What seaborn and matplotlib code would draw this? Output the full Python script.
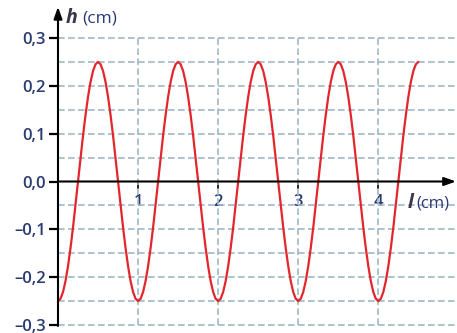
import pandas as pd
import matplotlib
matplotlib.use("Agg")
import matplotlib.pyplot as plt
import seaborn as sns

# wave profile (l in cm, h in cm)
l_cm = [
    0.0, 0.03125, 0.0625, 0.09375, 0.125, 0.15625, 0.1875, 0.21875, 0.25, 0.28125, 0.3125, 0.34375,
    0.375, 0.40625, 0.4375, 0.46875, 0.5, 0.53125, 0.5625, 0.59375, 0.625, 0.65625, 0.6875, 0.71875,
    0.75, 0.78125, 0.8125, 0.84375, 0.875, 0.90625, 0.9375, 0.96875,
    1.0, 1.03125, 1.0625, 1.09375, 1.125, 1.15625, 1.1875, 1.21875, 1.25, 1.28125, 1.3125, 1.34375,
    1.375, 1.40625, 1.4375, 1.46875, 1.5, 1.53125, 1.5625, 1.59375, 1.625, 1.65625, 1.6875, 1.71875,
    1.75, 1.78125, 1.8125, 1.84375, 1.875, 1.90625, 1.9375, 1.96875,
    2.0, 2.03125, 2.0625, 2.09375, 2.125, 2.15625, 2.1875, 2.21875, 2.25, 2.28125, 2.3125, 2.34375,
    2.375, 2.40625, 2.4375, 2.46875, 2.5, 2.53125, 2.5625, 2.59375, 2.625, 2.65625, 2.6875, 2.71875,
    2.75, 2.78125, 2.8125, 2.84375, 2.875, 2.90625, 2.9375, 2.96875,
    3.0, 3.03125, 3.0625, 3.09375, 3.125, 3.15625, 3.1875, 3.21875, 3.25, 3.28125, 3.3125, 3.34375,
    3.375, 3.40625, 3.4375, 3.46875, 3.5, 3.53125, 3.5625, 3.59375, 3.625, 3.65625, 3.6875, 3.71875,
    3.75, 3.78125, 3.8125, 3.84375, 3.875, 3.90625, 3.9375, 3.96875,
    4.0, 4.03125, 4.0625, 4.09375, 4.125, 4.15625, 4.1875, 4.21875, 4.25, 4.28125, 4.3125, 4.34375,
    4.375, 4.40625, 4.4375, 4.46875, 4.5,
]
h_cm = [
    -0.25, -0.245, -0.231, -0.208, -0.177, -0.139, -0.096, -0.049, 0.0, 0.049, 0.096, 0.139,
    0.177, 0.208, 0.231, 0.245, 0.25, 0.245, 0.231, 0.208, 0.177, 0.139, 0.096, 0.049,
    0.0, -0.049, -0.096, -0.139, -0.177, -0.208, -0.231, -0.245,
    -0.25, -0.245, -0.231, -0.208, -0.177, -0.139, -0.096, -0.049, 0.0, 0.049, 0.096, 0.139,
    0.177, 0.208, 0.231, 0.245, 0.25, 0.245, 0.231, 0.208, 0.177, 0.139, 0.096, 0.049,
    0.0, -0.049, -0.096, -0.139, -0.177, -0.208, -0.231, -0.245,
    -0.25, -0.245, -0.231, -0.208, -0.177, -0.139, -0.096, -0.049, 0.0, 0.049, 0.096, 0.139,
    0.177, 0.208, 0.231, 0.245, 0.25, 0.245, 0.231, 0.208, 0.177, 0.139, 0.096, 0.049,
    0.0, -0.049, -0.096, -0.139, -0.177, -0.208, -0.231, -0.245,
    -0.25, -0.245, -0.231, -0.208, -0.177, -0.139, -0.096, -0.049, 0.0, 0.049, 0.096, 0.139,
    0.177, 0.208, 0.231, 0.245, 0.25, 0.245, 0.231, 0.208, 0.177, 0.139, 0.096, 0.049,
    0.0, -0.049, -0.096, -0.139, -0.177, -0.208, -0.231, -0.245,
    -0.25, -0.245, -0.231, -0.208, -0.177, -0.139, -0.096, -0.049, 0.0, 0.049, 0.096, 0.139,
    0.177, 0.208, 0.231, 0.245, 0.25,
]

y_ticks = [-0.3, -0.2, -0.1, 0.0, 0.1, 0.2, 0.3]
y_labels = ["\u20130,3", "\u20130,2", "\u20130,1", "0,0", "0,1", "0,2", "0,3"]
x_ticks = [1, 2, 3, 4]
x_labels = ["1", "2", "3", "4"]
y_grid = [-0.3, -0.25, -0.2, -0.15, -0.1, -0.05, 0.05, 0.1, 0.15, 0.2, 0.25, 0.3]
x_grid = [1, 2, 3, 4, 5]

sns.set_style("white")
plt.rcParams["font.family"] = ["Open Sans", "DejaVu Sans"]

text_col = "#2b3a74"
grid_col = "#9fb8c8"

df = pd.DataFrame({"l": l_cm, "h": h_cm})

fig = plt.figure(figsize=(4.57, 3.33), dpi=100)
ax = fig.add_axes([58 / 457, 7 / 333, 402 / 457, 289 / 333])

# dashed grid
ax.hlines(y_grid, 0, 5, colors=grid_col, linestyles=(0, (4, 2)), linewidth=1.2, zorder=1)
ax.vlines(x_grid, -0.3, 0.3, colors=grid_col, linestyles=(0, (4, 2)), linewidth=1.2, zorder=1)

sns.lineplot(data=df, x="l", y="h", sort=False, color="#e2262c", linewidth=1.6, ax=ax, zorder=3)

ax.set_xlim(0, 5.02)
ax.set_ylim(-0.302, 0.302)
ax.grid(False)

for s in ax.spines.values():
    s.set_visible(False)
ax.spines["bottom"].set_position(("data", 0))

ax.set_yticks(y_ticks)
ax.set_yticklabels(y_labels)
ax.set_xticks(x_ticks)
ax.set_xticklabels(x_labels)
ax.tick_params(axis="y", which="major", left=True, direction="out", length=6.5, width=1.6,
               color="black", labelcolor=text_col, labelsize=12, pad=2)
ax.tick_params(axis="x", which="major", bottom=True, direction="out", length=5, width=1.2,
               color="black", labelcolor=text_col, labelsize=12, pad=4)
for lab in ax.get_xticklabels() + ax.get_yticklabels():
    lab.set_fontweight("semibold")
ax.set_xlabel("")
ax.set_ylabel("")

# axes with arrow heads
arrow = dict(arrowstyle="-|>,head_length=0.7,head_width=0.25", color="black",
             lw=1.5, shrinkA=0, shrinkB=0)
ax.annotate("", xy=(4.97, 0), xytext=(0, 0), arrowprops=arrow,
            annotation_clip=False, zorder=4)
ax.annotate("", xy=(0, 0.365), xytext=(0, -0.302), arrowprops=arrow,
            annotation_clip=False, zorder=4)

# axis names
th = ax.text(0.1, 0.341, "h", fontsize=14, fontweight="bold", fontstyle="italic",
             color="#3c3448", ha="left", va="center", clip_on=False)
ax.annotate("(cm)", xy=(1, 0.5), xycoords=th, xytext=(3, 0), textcoords="offset points",
            fontsize=12.5, color=text_col, ha="left", va="center", annotation_clip=False)
tl = ax.text(4.37, -0.045, "l", fontsize=14, fontweight="bold", fontstyle="italic",
             color="#3c3448", ha="left", va="center", clip_on=False)
ax.annotate("(cm)", xy=(1, 0.5), xycoords=tl, xytext=(2, 0), textcoords="offset points",
            fontsize=12, color=text_col, ha="left", va="center", annotation_clip=False)

fig.savefig("out.png", dpi=100)
